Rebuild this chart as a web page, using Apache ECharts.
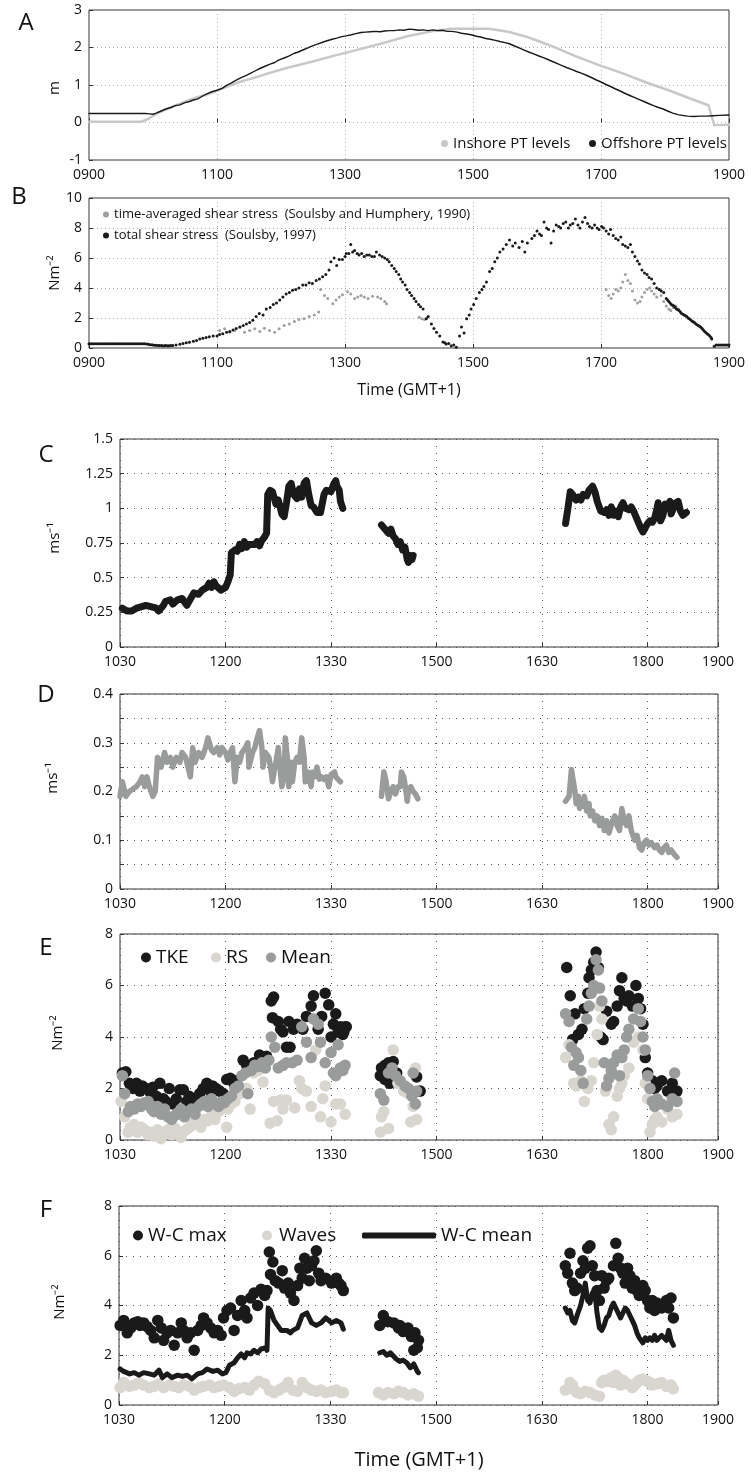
<!DOCTYPE html>
<html><head><meta charset="utf-8">
<script src="https://cdn.jsdelivr.net/npm/echarts@6/dist/echarts.min.js"></script>
<style>html,body{margin:0;padding:0;background:#fff}#c{width:751px;height:1475px}</style>
</head><body><div id="c"></div>
<script>
const FONT = "'Open Sans','Liberation Sans',sans-serif";

// ---- tick labels ----
const ticksAB = ['0900','1100','1300','1500','1700','1900'];               // x = hours after 0900
const ticksCF = ['1030','1200','1330','1500','1630','1800','1900'];        // x = minutes after 1030

// ---- Panel A: water levels (m), [hours after 0900, level] ----
const inshoreA = [[0,0.02],[0.82,0.02],[0.93,0.1],[1.08,0.26],[1.3,0.42],[1.6,0.62],[1.9,0.78],[2.13,0.94],[2.35,1.08],[2.58,1.19],[2.8,1.31],[3.1,1.46],[3.48,1.62],[3.85,1.79],[4.22,1.95],[4.6,2.12],[4.97,2.3],[5.35,2.43],[5.65,2.5],[5.95,2.5],[6.25,2.5],[6.55,2.42],[6.85,2.28],[7.07,2.14],[7.3,1.99],[7.6,1.77],[7.97,1.53],[8.34,1.31],[8.72,1.06],[9.09,0.84],[9.39,0.64],[9.68,0.46],[9.72,0.22],[9.77,-0.07],[10,-0.06]];
const offshoreA = [[0,0.24],[0.3,0.24],[0.6,0.24],[0.88,0.24],[0.95,0.23],[1.0,0.22],[1.05,0.25],[1.12,0.3],[1.2,0.36],[1.28,0.4],[1.35,0.45],[1.42,0.47],[1.5,0.53],[1.57,0.56],[1.63,0.6],[1.7,0.63],[1.77,0.7],[1.85,0.77],[1.92,0.82],[2.0,0.86],[2.08,0.91],[2.15,0.99],[2.22,1.05],[2.3,1.13],[2.37,1.19],[2.45,1.25],[2.52,1.31],[2.6,1.38],[2.67,1.44],[2.75,1.5],[2.82,1.55],[2.9,1.6],[2.97,1.67],[3.05,1.72],[3.12,1.77],[3.2,1.84],[3.27,1.88],[3.35,1.94],[3.42,1.99],[3.5,2.05],[3.57,2.09],[3.65,2.14],[3.72,2.18],[3.8,2.22],[3.87,2.25],[3.95,2.29],[4.02,2.31],[4.1,2.34],[4.17,2.37],[4.25,2.4],[4.32,2.41],[4.4,2.42],[4.47,2.43],[4.55,2.42],[4.62,2.44],[4.7,2.45],[4.77,2.45],[4.85,2.47],[4.92,2.46],[5.0,2.49],[5.07,2.48],[5.15,2.46],[5.22,2.47],[5.3,2.45],[5.37,2.47],[5.45,2.45],[5.52,2.46],[5.6,2.43],[5.67,2.43],[5.75,2.41],[5.82,2.38],[5.9,2.36],[5.97,2.34],[6.05,2.3],[6.12,2.28],[6.2,2.24],[6.27,2.22],[6.35,2.19],[6.42,2.16],[6.5,2.13],[6.57,2.1],[6.65,2.04],[6.72,1.99],[6.8,1.93],[6.87,1.88],[6.95,1.83],[7.02,1.78],[7.1,1.73],[7.17,1.68],[7.25,1.62],[7.32,1.57],[7.4,1.51],[7.47,1.46],[7.55,1.41],[7.62,1.36],[7.7,1.31],[7.77,1.26],[7.85,1.2],[7.92,1.14],[8.0,1.08],[8.07,1.02],[8.15,0.96],[8.22,0.9],[8.3,0.84],[8.37,0.78],[8.45,0.72],[8.52,0.67],[8.6,0.61],[8.67,0.56],[8.75,0.5],[8.82,0.45],[8.9,0.4],[8.97,0.36],[9.05,0.3],[9.12,0.25],[9.2,0.21],[9.27,0.19],[9.35,0.17],[9.45,0.16],[9.55,0.17],[9.65,0.17],[9.75,0.18],[9.85,0.19],[10,0.2]];

// ---- Panel B: shear stress (N m-2), [hours after 0900, stress] ----
const timeAvgB = [[2.04,1.16],[2.12,1.28],[2.2,1.05],[2.28,1.16],[2.35,1.39],[2.43,1.05],[2.51,1.16],[2.59,1.28],[2.67,1.1],[2.74,1.32],[2.82,1.16],[2.9,1.05],[2.97,1.28],[3.05,1.5],[3.13,1.6],[3.21,1.77],[3.28,1.9],[3.36,1.95],[3.44,2.1],[3.52,2.2],[3.59,2.4],[3.62,3.9],[3.68,3.5],[3.73,3.3],[3.81,2.95],[3.86,3.2],[3.91,3.4],[3.96,3.55],[4.04,3.75],[4.09,3.6],[4.15,3.3],[4.2,3.4],[4.25,3.5],[4.3,3.4],[4.36,3.3],[4.43,3.45],[4.51,3.4],[4.56,3.3],[4.62,3.1],[4.65,2.95],[5.16,2.05],[5.2,1.95],[5.24,1.9],[5.28,2.0],[8.08,3.9],[8.12,3.5],[8.16,3.3],[8.19,3.6],[8.23,3.9],[8.27,3.8],[8.31,4.0],[8.34,4.4],[8.38,4.9],[8.42,4.5],[8.46,4.3],[8.49,3.8],[8.53,3.2],[8.57,3.0],[8.61,3.1],[8.64,3.4],[8.68,3.7],[8.72,3.9],[8.76,4.0],[8.79,3.8],[8.83,3.6],[8.87,3.4],[8.91,3.9],[8.94,3.5],[8.98,3.1],[9.02,2.8],[9.06,2.6],[9.09,2.5],[9.13,2.7],[9.17,2.8],[9.21,2.6]];
const totalB = [[0,0.28],[0.03,0.28],[0.06,0.28],[0.09,0.28],[0.12,0.28],[0.15,0.28],[0.18,0.28],[0.21,0.28],[0.24,0.28],[0.27,0.28],[0.3,0.28],[0.33,0.28],[0.36,0.28],[0.39,0.28],[0.42,0.28],[0.45,0.28],[0.48,0.28],[0.51,0.28],[0.54,0.28],[0.57,0.28],[0.6,0.28],[0.63,0.28],[0.66,0.28],[0.69,0.28],[0.72,0.28],[0.75,0.28],[0.78,0.28],[0.81,0.28],[0.84,0.28],[0.87,0.28],[0.9,0.27],[0.93,0.25],[0.95,0.22],[0.98,0.21],[1.0,0.2],[1.03,0.19],[1.05,0.18],[1.08,0.17],[1.1,0.16],[1.13,0.16],[1.15,0.15],[1.18,0.15],[1.2,0.16],[1.23,0.15],[1.25,0.15],[1.28,0.16],[1.31,0.17],[1.36,0.2],[1.42,0.25],[1.47,0.3],[1.52,0.35],[1.57,0.38],[1.63,0.45],[1.68,0.5],[1.73,0.6],[1.78,0.65],[1.83,0.7],[1.88,0.75],[1.94,0.8],[2.0,0.8],[2.04,0.9],[2.09,0.95],[2.15,1.05],[2.2,1.1],[2.25,1.2],[2.3,1.3],[2.36,1.4],[2.41,1.5],[2.46,1.6],[2.51,1.7],[2.56,1.85],[2.61,2.1],[2.66,2.3],[2.72,2.2],[2.77,2.6],[2.83,2.7],[2.88,2.9],[2.93,3.0],[2.98,3.2],[3.03,3.4],[3.08,3.6],[3.13,3.7],[3.18,3.85],[3.23,3.9],[3.28,4.0],[3.34,4.2],[3.39,4.2],[3.44,4.35],[3.49,4.3],[3.55,4.5],[3.6,4.6],[3.65,4.75],[3.7,4.9],[3.75,5.2],[3.78,5.75],[3.83,6.0],[3.87,5.5],[3.91,5.9],[3.96,5.9],[4.0,6.1],[4.02,6.3],[4.06,6.3],[4.09,6.9],[4.12,6.4],[4.15,6.5],[4.19,6.3],[4.22,6.2],[4.26,6.3],[4.3,6.1],[4.34,6.2],[4.38,6.2],[4.42,6.1],[4.46,6.1],[4.49,6.4],[4.54,6.2],[4.58,6.1],[4.62,6.0],[4.66,5.9],[4.69,5.75],[4.73,5.5],[4.77,5.3],[4.8,5.1],[4.84,4.9],[4.87,4.6],[4.9,4.4],[4.94,4.2],[4.97,3.9],[5.01,3.7],[5.04,3.5],[5.08,3.3],[5.11,3.1],[5.15,2.9],[5.18,2.75],[5.22,2.6],[5.27,1.95],[5.3,2.1],[5.35,1.6],[5.39,1.3],[5.43,1.05],[5.48,0.8],[5.53,0.4],[5.56,0.35],[5.58,0.27],[5.62,0.3],[5.66,0.15],[5.7,0.2],[5.74,0.05],[5.79,0.8],[5.82,1.4],[5.86,1.0],[5.9,1.95],[5.94,2.2],[5.97,2.6],[6.01,2.9],[6.05,3.3],[6.1,3.7],[6.14,3.9],[6.17,4.1],[6.21,4.4],[6.26,5.1],[6.3,5.3],[6.34,5.75],[6.38,6.0],[6.42,6.4],[6.47,6.6],[6.52,6.9],[6.57,7.2],[6.62,6.8],[6.66,7.0],[6.72,6.7],[6.77,7.1],[6.81,6.4],[6.85,7.0],[6.92,7.3],[6.96,7.5],[7.0,7.8],[7.04,7.6],[7.07,7.5],[7.11,8.4],[7.15,8.0],[7.18,7.9],[7.22,7.0],[7.26,7.8],[7.3,8.2],[7.34,8.1],[7.37,8.0],[7.41,8.3],[7.45,8.4],[7.49,8.0],[7.52,8.2],[7.56,8.3],[7.6,8.6],[7.64,8.2],[7.67,8.0],[7.71,8.4],[7.75,8.7],[7.79,8.3],[7.82,8.1],[7.86,8.0],[7.9,8.2],[7.94,8.0],[7.97,7.9],[8.01,8.1],[8.04,8.0],[8.08,7.8],[8.12,7.6],[8.15,7.9],[8.19,7.5],[8.23,7.3],[8.27,7.2],[8.31,7.4],[8.34,6.9],[8.38,6.8],[8.42,6.7],[8.46,6.9],[8.49,6.4],[8.53,6.1],[8.57,5.8],[8.6,5.6],[8.64,5.2],[8.68,5.0],[8.72,4.9],[8.75,4.7],[8.79,4.6],[8.83,4.3],[8.87,4.0],[8.91,3.9],[8.94,3.8],[8.98,3.7],[9.02,3.3],[9.04,3.2],[9.06,3.1],[9.08,3.0],[9.1,2.9],[9.12,2.85],[9.14,2.8],[9.16,2.7],[9.18,2.6],[9.2,2.55],[9.22,2.5],[9.24,2.4],[9.26,2.3],[9.28,2.25],[9.3,2.2],[9.32,2.15],[9.34,2.1],[9.36,2.0],[9.38,1.95],[9.4,1.88],[9.42,1.8],[9.44,1.75],[9.46,1.7],[9.48,1.62],[9.5,1.55],[9.52,1.5],[9.54,1.45],[9.56,1.38],[9.58,1.3],[9.6,1.2],[9.62,1.1],[9.64,1.02],[9.66,0.95],[9.68,0.88],[9.7,0.8],[9.72,0.7],[9.73,0.6],[9.77,0.12],[9.8,0.2],[9.83,0.2],[9.86,0.2],[9.89,0.2],[9.92,0.2],[9.95,0.2],[9.98,0.2],[10,0.2]];

// ---- Panel C: current speed (m s-1), [minutes after 1030, speed] ----
const speedC1 = [[2,0.28],[6,0.26],[10,0.26],[14,0.28],[18,0.29],[22,0.30],[27,0.29],[31,0.28],[33,0.26],[37,0.30],[39,0.33],[43,0.34],[45,0.31],[49,0.34],[53,0.35],[57,0.30],[61,0.36],[63,0.39],[67,0.38],[70,0.41],[74,0.43],[76,0.46],[78,0.43],[80,0.47],[82,0.44],[86,0.41],[90,0.43],[92,0.47],[94,0.52],[95,0.68],[98,0.70],[100,0.69],[102,0.74],[104,0.71],[106,0.76],[108,0.72],[110,0.74],[115,0.74],[117,0.76],[119,0.73],[121,0.77],[123,0.79],[125,0.82],[126,1.10],[128,1.13],[130,1.12],[133,1.03],[135,1.06],[138,0.96],[140,0.94],[142,1.04],[144,1.16],[146,1.18],[148,1.10],[151,1.07],[153,1.14],[155,1.08],[157,1.18],[159,1.20],[161,1.10],[163,1.02],[165,1.01],[168,0.97],[171,0.97],[174,1.10],[176,1.13],[180,1.12],[182,1.17],[184,1.20],[185,1.16],[187,1.13],[188,1.05],[190,1.00]];
const speedC2 = [[223,0.88],[225,0.86],[227,0.84],[229,0.82],[231,0.85],[233,0.80],[235,0.78],[237,0.74],[239,0.76],[241,0.70],[243,0.72],[245,0.63],[246,0.61],[248,0.66],[249,0.63],[250,0.66]];
const speedC3 = [[380,0.89],[382,1.00],[384,1.12],[386,1.10],[389,1.06],[391,1.08],[393,1.06],[395,1.10],[398,1.09],[400,1.13],[403,1.16],[405,1.12],[407,1.05],[410,0.98],[413,0.97],[415,0.99],[417,0.95],[419,1.01],[421,0.95],[423,0.98],[425,0.94],[427,1.01],[429,1.04],[431,1.00],[434,0.99],[436,1.01],[438,0.98],[440,0.94],[442,0.90],[444,0.86],[446,0.83],[448,0.86],[450,0.89],[452,0.91],[454,0.90],[456,0.93],[458,1.00],[459,1.04],[461,0.91],[463,0.95],[465,1.03],[467,1.02],[469,1.05],[470,0.96],[472,1.00],[474,1.04],[476,1.05],[478,0.98],[480,0.95],[483,0.97]];

// ---- Panel D: (m s-1), [minutes after 1030, value] ----
const speedD1 = [[0,0.19],[2,0.22],[5,0.19],[8,0.20],[11,0.205],[14,0.21],[17,0.22],[19,0.23],[21,0.21],[23,0.23],[25,0.21],[28,0.19],[30,0.20],[32,0.27],[35,0.25],[38,0.28],[40,0.26],[43,0.27],[45,0.25],[48,0.27],[51,0.26],[53,0.28],[56,0.27],[58,0.25],[60,0.23],[62,0.29],[64,0.26],[67,0.28],[70,0.27],[73,0.29],[75,0.31],[78,0.285],[80,0.28],[83,0.29],[85,0.275],[87,0.29],[90,0.28],[92,0.265],[94,0.28],[96,0.29],[98,0.22],[100,0.27],[102,0.26],[104,0.28],[107,0.29],[109,0.30],[110,0.25],[113,0.28],[115,0.29],[117,0.31],[119,0.325],[121,0.29],[122,0.25],[124,0.28],[127,0.27],[129,0.24],[130,0.22],[132,0.25],[133,0.26],[135,0.29],[136,0.26],[138,0.21],[140,0.23],[141,0.31],[143,0.26],[144,0.21],[146,0.26],[147,0.22],[149,0.26],[151,0.27],[153,0.26],[155,0.31],[157,0.27],[158,0.22],[160,0.24],[163,0.21],[164,0.24],[166,0.23],[168,0.25],[170,0.225],[172,0.23],[174,0.225],[176,0.23],[178,0.21],[180,0.235],[183,0.24],[184,0.23],[186,0.225],[188,0.22]];
const speedD2 = [[223,0.19],[225,0.24],[227,0.22],[229,0.185],[231,0.20],[233,0.21],[235,0.195],[237,0.21],[239,0.21],[240,0.24],[242,0.23],[243,0.215],[245,0.18],[246,0.205],[248,0.21],[250,0.20],[252,0.195],[254,0.185]];
const speedD3 = [[380,0.18],[383,0.19],[385,0.245],[386,0.23],[388,0.20],[389,0.175],[391,0.19],[392,0.165],[393,0.18],[395,0.17],[396,0.19],[398,0.16],[400,0.175],[401,0.15],[403,0.16],[405,0.14],[407,0.15],[409,0.13],[411,0.145],[413,0.12],[415,0.14],[417,0.115],[420,0.14],[422,0.15],[424,0.13],[426,0.12],[428,0.165],[430,0.14],[432,0.13],[434,0.15],[436,0.12],[439,0.10],[441,0.11],[443,0.085],[445,0.08],[447,0.095],[449,0.10],[451,0.09],[453,0.095],[456,0.085],[458,0.09],[460,0.08],[462,0.075],[464,0.085],[466,0.09],[468,0.075],[470,0.08],[473,0.07],[475,0.065]];

// ---- Panel E: stresses (N m-2), [minutes after 1030, value] ----
const tkeE = [[2,2.6],[5,2.65],[8,2.2],[11,2.0],[14,2.2],[17,1.9],[19,2.1],[22,2.0],[25,1.9],[28,2.05],[31,1.7],[34,2.2],[37,1.6],[39,1.5],[42,2.0],[45,1.4],[48,1.6],[51,1.95],[54,1.95],[57,1.5],[59,1.7],[62,1.45],[65,1.6],[68,1.8],[71,2.0],[74,2.2],[77,1.9],[79,2.1],[82,2.0],[85,1.9],[88,1.8],[91,2.35],[94,2.4],[97,2.2],[99,2.3],[105,3.1],[108,2.9],[114,3.0],[119,3.3],[125,3.25],[129,5.4],[131,5.55],[130,4.75],[135,4.6],[137,4.3],[139,4.2],[142,3.6],[144,4.6],[145,3.6],[148,4.3],[151,4.5],[153,4.4],[156,4.3],[159,4.8],[163,5.2],[165,5.6],[169,4.3],[172,4.8],[175,5.7],[178,5.25],[180,4.0],[182,4.5],[184,4.9],[186,4.2],[188,4.4],[190,4.1],[191,4.2],[192,4.4],[193,4.4],[222,2.5],[223,2.8],[226,2.35],[226,2.9],[229,3.0],[230,2.2],[233,3.05],[236,2.6],[253,2.45],[256,1.9],[381,6.7],[384,5.6],[386,3.9],[388,4.9],[391,4.1],[394,4.3],[396,5.1],[399,5.7],[400,6.3],[402,6.6],[404,6.9],[406,7.3],[408,6.7],[410,4.0],[412,3.9],[415,5.0],[419,4.5],[421,4.6],[424,5.2],[426,5.8],[428,6.3],[430,5.5],[432,5.4],[434,5.6],[437,5.2],[440,6.0],[442,5.5],[444,5.1],[446,4.5],[448,3.2],[450,2.6],[454,2.3],[456,2.0],[458,2.1],[462,2.3],[467,1.9],[471,2.2],[475,1.9]];
const rsE = [[1,1.5],[4,0.9],[7,0.3],[9,0.5],[12,0.6],[15,0.3],[18,0.5],[21,0.4],[24,0.2],[27,0.3],[29,0.15],[32,0.4],[35,0.05],[38,0.3],[41,0.4],[44,0.2],[47,0.45],[49,0.35],[52,0.1],[55,0.35],[58,0.45],[61,0.55],[64,0.7],[67,0.6],[69,0.5],[72,0.8],[75,0.75],[78,0.95],[81,0.8],[84,1.1],[87,1.2],[91,0.5],[92,1.2],[95,1.4],[98,1.5],[102,1.8],[108,2.0],[111,1.2],[114,2.6],[118,2.7],[122,2.25],[128,0.65],[131,1.5],[134,0.75],[137,1.55],[139,1.2],[142,1.55],[149,1.25],[153,2.3],[155,2.0],[159,1.9],[163,1.3],[167,3.5],[171,0.9],[173,1.6],[175,2.1],[180,0.7],[184,1.4],[188,1.4],[192,1.0],[222,0.3],[223,0.9],[225,1.1],[229,0.45],[233,3.5],[237,2.2],[242,1.9],[246,1.8],[248,0.7],[250,1.3],[252,2.8],[253,0.8],[380,3.2],[383,3.7],[387,2.2],[389,2.1],[393,2.3],[396,1.5],[399,2.0],[402,2.3],[404,3.0],[407,4.1],[409,5.2],[411,4.7],[414,1.9],[417,0.6],[419,0.4],[421,0.9],[424,1.7],[426,2.0],[428,2.2],[430,2.5],[434,2.8],[438,3.8],[442,4.0],[446,3.5],[448,2.2],[450,1.6],[452,0.3],[454,0.6],[456,0.8],[458,0.9],[462,0.7],[467,1.2],[471,0.9],[475,1.0]];
const meanE = [[2,2.5],[4,1.8],[7,1.1],[9,1.3],[12,1.2],[15,1.4],[18,1.3],[21,1.45],[24,1.5],[27,1.2],[29,1.1],[32,1.3],[35,1.0],[38,1.2],[41,0.9],[44,0.8],[47,0.95],[49,1.05],[52,1.2],[55,0.9],[58,1.1],[61,1.2],[64,1.0],[67,1.3],[69,1.4],[72,1.5],[75,1.3],[78,1.6],[81,1.4],[84,1.3],[87,1.5],[89,1.45],[92,1.6],[95,1.7],[98,2.0],[101,2.1],[104,2.5],[107,2.6],[109,1.8],[112,2.7],[115,2.9],[118,2.85],[121,3.0],[124,2.8],[127,3.1],[129,4.0],[132,3.6],[135,2.8],[139,2.9],[142,3.0],[147,3.0],[151,3.1],[155,4.4],[159,3.8],[163,3.2],[165,4.7],[169,4.5],[171,3.8],[175,3.0],[180,3.4],[182,2.6],[184,2.5],[186,3.7],[188,2.8],[190,2.7],[192,2.9],[222,1.8],[225,1.55],[229,2.6],[232,2.8],[235,2.5],[239,2.3],[243,2.1],[246,2.0],[249,1.7],[250,2.6],[252,1.4],[253,1.9],[380,4.9],[383,4.6],[385,3.6],[387,2.9],[389,3.4],[391,3.2],[393,2.7],[395,2.2],[398,4.7],[400,5.2],[402,5.7],[404,6.0],[406,7.0],[408,6.6],[409,5.9],[411,5.4],[413,3.0],[415,2.1],[417,2.4],[419,2.7],[421,3.0],[424,3.3],[426,2.5],[428,3.2],[430,3.5],[432,4.0],[434,4.3],[438,4.7],[442,5.1],[444,4.6],[446,4.0],[448,3.5],[450,2.5],[452,2.0],[454,1.5],[456,1.3],[458,1.6],[462,1.4],[467,1.3],[471,1.6],[473,2.6],[475,1.5]];

// ---- Panel F: wave-current stresses (N m-2), [minutes after 1030, value] ----
const wcMaxF = [[1,3.2],[4,3.4],[7,2.9],[10,3.1],[13,3.3],[16,3.35],[18,3.2],[21,3.3],[24,3.15],[27,3.0],[30,2.7],[33,3.4],[36,3.1],[38,2.6],[41,2.9],[44,3.0],[47,2.4],[50,2.9],[53,3.3],[55,3.0],[58,2.7],[61,2.9],[64,2.2],[67,3.0],[70,3.2],[72,3.5],[75,3.3],[78,3.1],[81,2.9],[84,3.0],[87,2.8],[89,3.5],[92,3.8],[95,3.9],[98,3.0],[101,3.6],[104,4.2],[107,3.8],[109,3.5],[112,4.3],[115,4.5],[118,4.0],[121,4.65],[124,4.4],[126,4.6],[128,6.15],[129,5.25],[131,5.75],[133,5.0],[136,4.9],[139,5.4],[141,4.7],[144,4.9],[146,4.5],[149,4.2],[152,4.8],[154,5.5],[156,5.1],[158,5.9],[160,5.5],[162,5.0],[164,5.6],[166,5.8],[168,6.2],[170,5.3],[172,5.0],[176,5.1],[181,4.9],[185,5.1],[187,4.9],[189,4.8],[191,4.6],[222,3.2],[225,3.6],[229,3.35],[234,3.3],[238,3.1],[239,3.2],[242,2.95],[246,3.1],[249,2.75],[251,2.2],[252,2.9],[254,2.3],[255,2.6],[380,5.6],[382,5.3],[384,6.1],[386,4.9],[388,4.6],[390,4.7],[393,5.3],[395,5.8],[397,5.5],[399,6.3],[401,6.4],[403,5.6],[405,5.2],[407,4.6],[409,4.2],[411,5.2],[413,4.7],[415,5.0],[417,5.1],[421,5.6],[423,6.5],[425,5.9],[427,5.5],[429,5.3],[431,4.9],[433,5.5],[435,5.2],[437,4.7],[439,5.0],[441,4.6],[443,4.4],[446,4.8],[448,4.6],[450,4.2],[452,3.9],[454,4.2],[456,3.8],[458,4.1],[462,3.9],[466,4.2],[468,3.9],[470,4.3],[472,3.5]];
const wavesF = [[1,0.7],[4,0.9],[9,0.75],[13,0.8],[17,0.9],[21,0.8],[26,0.7],[30,0.75],[34,0.85],[38,0.7],[43,0.8],[47,0.75],[51,0.7],[55,0.8],[60,0.75],[64,0.6],[68,0.7],[72,0.75],[77,0.8],[81,0.7],[85,0.75],[89,0.8],[94,0.7],[98,0.55],[102,0.65],[107,0.7],[111,0.6],[115,0.8],[119,0.95],[124,0.85],[128,0.6],[132,0.5],[136,0.6],[140,0.7],[144,0.9],[148,0.6],[152,0.55],[156,0.9],[160,0.7],[164,0.6],[168,0.55],[172,0.6],[176,0.5],[181,0.55],[185,0.6],[189,0.5],[191,0.5],[221,0.5],[225,0.4],[229,0.5],[234,0.45],[238,0.55],[242,0.5],[246,0.4],[251,0.45],[255,0.35],[380,0.6],[384,0.9],[386,0.8],[388,0.6],[390,0.5],[393,0.45],[397,0.55],[401,0.5],[405,0.4],[409,0.35],[411,0.9],[413,1.0],[417,0.95],[419,1.1],[421,0.9],[423,1.2],[425,1.1],[427,0.8],[429,1.0],[431,0.9],[433,0.85],[437,0.7],[439,0.8],[441,0.9],[443,1.0],[446,1.05],[448,1.0],[450,0.95],[452,0.9],[454,0.8],[458,0.85],[462,0.9],[466,0.75],[470,0.8],[472,0.65]];
const wcMean1 = [[1,1.45],[4,1.35],[9,1.25],[13,1.3],[17,1.2],[21,1.3],[26,1.25],[30,1.2],[34,1.4],[37,1.1],[41,1.25],[45,1.1],[50,1.2],[54,1.15],[58,1.2],[62,1.05],[67,1.25],[71,1.3],[75,1.45],[80,1.35],[84,1.4],[88,1.25],[91,1.3],[94,1.6],[98,1.7],[101,1.9],[104,2.05],[107,1.9],[109,2.1],[112,2.05],[115,2.2],[118,2.1],[121,2.25],[125,2.3],[126,2.2],[127,3.9],[129,3.8],[132,3.4],[135,3.2],[138,3.0],[143,3.0],[146,2.9],[148,3.0],[152,3.1],[156,3.6],[160,3.7],[164,3.3],[168,3.2],[172,3.3],[176,3.5],[181,3.3],[185,3.4],[189,3.3],[191,3.05]];
const wcMean2 = [[222,2.1],[225,2.15],[228,2.0],[231,2.1],[234,1.95],[236,1.85],[239,1.75],[242,1.8],[245,1.7],[248,1.5],[251,1.65],[254,1.35],[255,1.3]];
const wcMean3 = [[380,3.9],[382,3.7],[384,3.8],[386,3.4],[388,3.3],[390,3.6],[393,4.0],[395,4.4],[397,4.9],[399,4.2],[401,4.1],[403,4.5],[405,4.6],[407,3.7],[409,3.1],[411,3.0],[413,3.2],[415,3.5],[417,3.6],[419,3.9],[421,4.1],[423,3.9],[425,3.7],[427,3.5],[429,3.7],[431,3.9],[433,3.8],[435,3.6],[437,3.4],[439,3.2],[441,2.9],[443,2.7],[446,2.5],[448,2.7],[450,2.6],[452,2.7],[454,2.6],[456,2.8],[458,2.6],[462,2.8],[466,2.6],[468,3.0],[470,2.6],[472,2.4]];

// ---- colours ----
const BLACK = '#1a1a1a', MIDGREY = '#9a9b9b', LIGHT = '#d9d6d0', ALINE = '#c8c8c8', BGREY = '#a0a0a0';

// ---- layout (px) ----
const grids = [
  {left:89, top:10, width:640, height:150},
  {left:89, top:198, width:640, height:150},
  {left:120, top:439, width:598, height:208},
  {left:120, top:694, width:598, height:195},
  {left:120, top:934, width:598, height:206},
  {left:119, top:1206, width:599, height:199}
].map(g => Object.assign({show:true, borderColor:'#333', borderWidth:1, backgroundColor:'transparent', containLabel:false}, g));

const splitDots = (c, gap) => ({show:true, lineStyle:{type:[1, gap], color:c, width:1}});
const TICK = {show:true, inside:true, length:4, lineStyle:{color:'#333'}};

function xAxisAB(gi){
  return {type:'value', gridIndex:gi, min:0, max:10, interval:2,
    axisLine:{show:false}, axisTick:TICK,
    axisLabel:{formatter:v => ticksAB[Math.round(v/2)], fontSize:14, color:'#111', fontFamily:FONT, margin:8},
    splitLine:splitDots('#aaa', 3)};
}
function xAxisCF(gi){
  return {type:'value', gridIndex:gi, min:0, max:510, interval:90,
    axisLine:{show:false}, axisTick:TICK,
    axisLabel:{formatter:v => (v >= 510 ? ticksCF[6] : ticksCF[Math.round(v/90)]), fontSize:14, color:'#111', fontFamily:FONT, margin:8},
    splitLine:splitDots('#555', 6)};
}
function yAxis(gi, min, max, interval, fmt, col, gap){
  return {type:'value', gridIndex:gi, min, max, interval,
    axisLine:{show:false}, axisTick:TICK,
    axisLabel:Object.assign({fontSize:14, color:'#111', fontFamily:FONT, margin:7}, fmt ? {formatter:fmt} : {}),
    splitLine:splitDots(col, gap)};
}

const xAxes = [xAxisAB(0), xAxisAB(1), xAxisCF(2), xAxisCF(3), xAxisCF(4), xAxisCF(5)];
const yAxes = [
  yAxis(0, -1, 3, 1, null, '#aaa', 3),
  yAxis(1, 0, 10, 2, null, '#aaa', 3),
  yAxis(2, 0, 1.5, 0.25, null, '#555', 6),
  yAxis(3, 0, 0.4, 0.05, v => { const t = Math.round(v*100); return t % 10 === 0 ? String(t/100) : ''; }, '#555', 6),
  yAxis(4, 0, 8, 2, null, '#555', 6),
  yAxis(5, 0, 8, 2, null, '#555', 6)
];

function lineS(name, data, gi, color, width, z){
  return {type:'line', name, data, xAxisIndex:gi, yAxisIndex:gi, showSymbol:false, symbol:'none',
    lineStyle:{color, width, join:'round', cap:'round'}, itemStyle:{color}, z:z||2, silent:true};
}
function dotS(name, data, gi, color, size, z){
  return {type:'scatter', name, data, xAxisIndex:gi, yAxisIndex:gi, symbol:'circle', symbolSize:size,
    itemStyle:{color, opacity:1}, z:z||2, silent:true};
}

const series = [
  lineS('Inshore PT levels', inshoreA, 0, ALINE, 2.5, 2),
  lineS('Offshore PT levels', offshoreA, 0, BLACK, 1.4, 3),
  dotS('time-averaged shear stress  (Soulsby and Humphery, 1990)', timeAvgB, 1, BGREY, 3, 2),
  dotS('total shear stress  (Soulsby, 1997)', totalB, 1, BLACK, 3, 3),
  lineS('C1', speedC1, 2, BLACK, 7), lineS('C2', speedC2, 2, BLACK, 7), lineS('C3', speedC3, 2, BLACK, 7),
  lineS('D1', speedD1, 3, MIDGREY, 5.5), lineS('D2', speedD2, 3, MIDGREY, 5.5), lineS('D3', speedD3, 3, MIDGREY, 5.5),
  dotS('TKE', tkeE, 4, BLACK, 11.5, 2),
  dotS('RS', rsE, 4, LIGHT, 11.5, 3),
  dotS('Mean', meanE, 4, MIDGREY, 11.5, 4),
  dotS('Waves', wavesF, 5, LIGHT, 11.5, 2),
  dotS('W-C max', wcMaxF, 5, BLACK, 11.5, 3),
  lineS('W-C mean', wcMean1, 5, BLACK, 5, 4), lineS('W-C mean ', wcMean2, 5, BLACK, 5, 4), lineS('W-C mean  ', wcMean3, 5, BLACK, 5, 4)
];

function leg(name, left, top, size, fs, extra){
  return Object.assign({data:[{name, icon:'circle'}], left, top, padding:0, itemWidth:size, itemHeight:size,
    selectedMode:false, textStyle:{fontSize:fs, fontFamily:FONT, color:'#111'}}, extra||{});
}
const legends = [
  leg('Inshore PT levels', 441, 136, 7, 15),
  leg('Offshore PT levels', 589, 136, 7, 15),
  leg('time-averaged shear stress  (Soulsby and Humphery, 1990)', 103, 208, 6, 13),
  leg('total shear stress  (Soulsby, 1997)', 103, 229, 6, 13),
  leg('TKE', 141, 948, 10, 19),
  leg('RS', 211, 948, 10, 19),
  leg('Mean', 266, 948, 10, 19),
  leg('W-C max', 133, 1226, 10, 19),
  leg('Waves', 262, 1226, 10, 19, {itemWidth:14}),
  {data:[{name:'W-C mean', icon:'roundRect'}], left:362, top:1226, padding:0, itemWidth:74, itemHeight:6,
    selectedMode:false, textStyle:{fontSize:19, fontFamily:FONT, color:'#111'}}
];

function txt(x, y, text, fs, rot){
  return {type:'text', x, y, rotation: rot ? Math.PI/2 : 0, silent:true,
    style:{text, fontSize:fs, fontFamily:FONT, fill:'#111', align:'center', verticalAlign:'middle'}};
}
const graphics = [
  txt(26, 23, 'A', 24), txt(19, 197, 'B', 24), txt(46, 455, 'C', 24),
  txt(46, 695, 'D', 24), txt(46, 948, 'E', 24), txt(46, 1210, 'F', 24),
  txt(55, 88, 'm', 15, true), txt(55, 273, 'Nm\u207B\u00B2', 15, true),
  txt(55, 538, 'ms\u207B\u00B9', 15, true), txt(53, 778, 'ms\u207B\u00B9', 15, true),
  txt(58, 1033, 'Nm\u207B\u00B2', 15, true), txt(60, 1302, 'Nm\u207B\u00B2', 15, true),
  txt(409, 390, 'Time (GMT+1)', 16), txt(419, 1460, 'Time (GMT+1)', 20)
];

const chart = echarts.init(document.getElementById('c'), null, {renderer:'canvas'});
chart.setOption({
  animation:false,
  backgroundColor:'#fff',
  grid:grids, xAxis:xAxes, yAxis:yAxes, series, legend:legends,
  graphic:{elements:graphics}
});
</script></body></html>
